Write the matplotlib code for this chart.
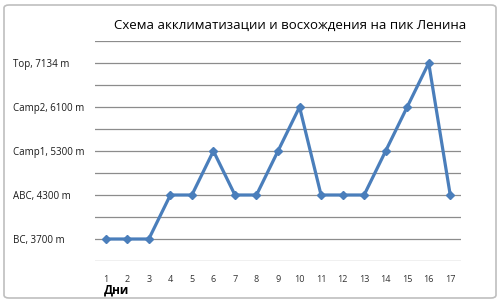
import numpy as np
import matplotlib.pyplot as plt
from matplotlib.patches import FancyBboxPatch

plt.rcParams['font.family'] = ['Open Sans', 'DejaVu Sans']

days = list(range(1, 18))
# levels on the chart's y scale (0..10, labelled on odd steps)
level_pos = [1, 3, 5, 7, 9]
level_names = ["BC, 3700 m", "ABC, 4300 m", "Camp1, 5300 m", "Camp2, 6100 m", "Top, 7134 m"]
camp = ["BC", "BC", "BC", "ABC", "ABC", "Camp1", "ABC", "ABC", "Camp1", "Camp2",
        "ABC", "ABC", "ABC", "Camp1", "Camp2", "Top", "ABC"]
camp_level = {"BC": 1, "ABC": 3, "Camp1": 5, "Camp2": 7, "Top": 9}
heights = [camp_level[c] for c in camp]

fig = plt.figure(figsize=(5.0, 3.02), dpi=100)
ax = fig.add_axes([95 / 500, 1 - 261 / 302, 366 / 500, 220 / 302])

frame = FancyBboxPatch((4 / 500, 4 / 302), 492 / 500, 293 / 302,
                       boxstyle="round,pad=0,rounding_size=0.01",
                       transform=fig.transFigure, fill=False,
                       edgecolor="#bfbfbf", linewidth=1.2)
fig.patches.append(frame)

ax.plot(days, heights, color="#4a7ebb", linewidth=2.3, marker="D", markersize=4.5, zorder=3)

ax.set_xlim(0.5, 17.5)
ax.set_ylim(0, 10)
ax.set_yticks(level_pos)
ax.set_yticks([0, 2, 4, 6, 8, 10], minor=True)
ax.grid(True, axis="y", which="both", color="#8c8c8c", linewidth=0.9)
ax.set_yticklabels(level_names, fontsize=7, ha="left", color="#1a1a1a")
ax.tick_params(axis="y", which="both", length=0, pad=59)
ax.set_xticks(days)
ax.set_xticklabels([str(d) for d in days], fontsize=6.5, color="#333333")
ax.tick_params(axis="x", length=0, pad=10)
ax.set_axisbelow(True)
for s in ax.spines.values():
    s.set_visible(False)

fig.text(104 / 500, 1 - 290 / 302, "Дни", fontsize=8.5, fontweight="bold",
         ha="left", va="center")
fig.text(290 / 500, 1 - 25 / 302, "Схема акклиматизации и восхождения на пик Ленина",
         fontsize=9.5, ha="center", va="center")

fig.savefig("out.png", dpi=100)
